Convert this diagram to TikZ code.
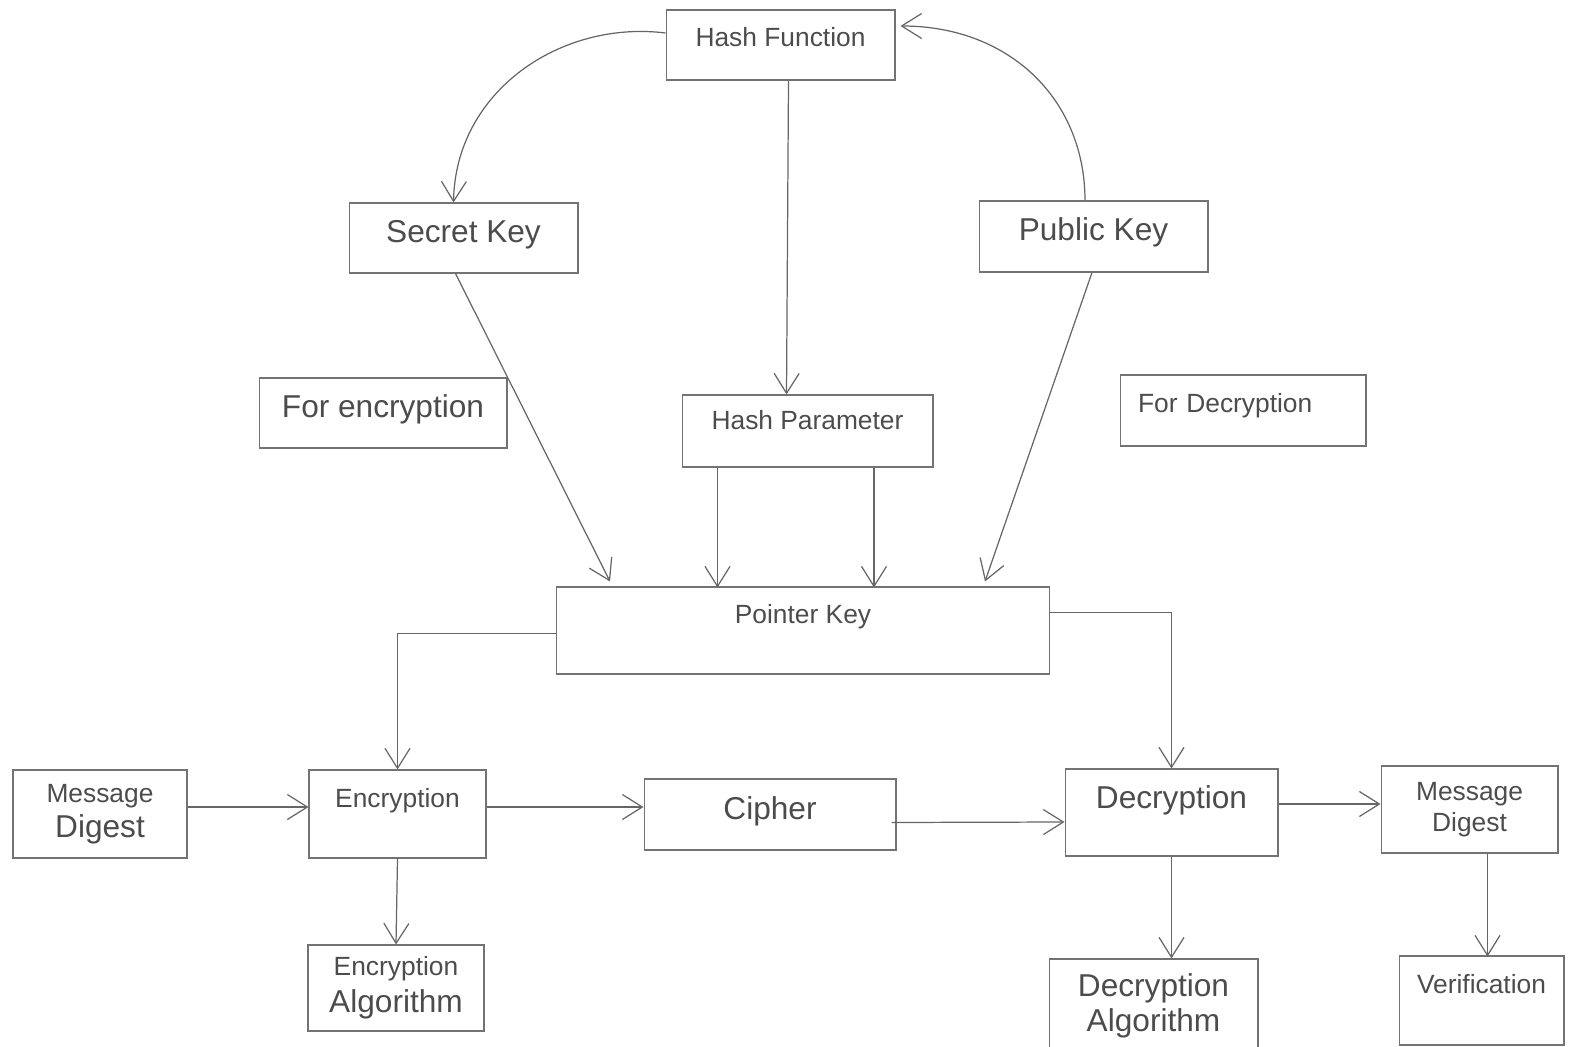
\documentclass[tikz,border=0pt]{standalone}
\usepackage{fontspec}
\setmainfont{Liberation Sans}
\usepackage{tikz}
\usetikzlibrary{arrows.meta,calc}

\newcommand{\mtxt}{\fontsize{15}{18}\selectfont}
\newcommand{\btxt}{\fontsize{18}{21}\selectfont}

\begin{document}
\begin{tikzpicture}[x=0.02cm,y=-0.02cm,
  box/.style={rectangle,draw=black!55,line width=0.6pt,text=black!70,inner sep=2pt},
  dims/.style 2 args={minimum width=#1cm,minimum height=#2cm},
  raised/.style={text height=0.4cm,text depth=#1},
  arr/.style={draw=black!60,line width=0.7pt,
    -{Straight Barb[length=4mm,width=5mm,line width=0.7pt]}}]

  \useasboundingbox (0,0) rectangle (1595,1047);

  \node[box,dims={4.58}{1.4},raised=0.32cm,font=\mtxt] (hf) at (780.5,45) {Hash Function};
  \node[box,dims={4.58}{1.4},raised=0.2cm,font=\btxt] (sk) at (463.5,238) {Secret Key};
  \node[box,dims={4.58}{1.42},raised=0.22cm,font=\btxt] (pk) at (1093.5,236.5) {Public Key};
  \node[box,dims={4.96}{1.4},raised=0.2cm,font=\btxt] (fe) at (383,413) {For encryption};
  \node[box,dims={5.02}{1.44},raised=0.48cm,font=\mtxt] (hp) at (807.5,431) {Hash Parameter};
  \node[box,dims={4.92}{1.42},raised=0.34cm,font=\mtxt,text width=4.2cm,align=left] (fd) at (1243,410.5) {For Decryption};
  \node[box,dims={9.88}{1.74},raised=0.7cm,font=\mtxt] (ptr) at (803,630.5) {Pointer Key};

  \node[box,dims={3.48}{1.76},align=center] (md1) at (100,814) {\mtxt Message\\[3pt]\btxt Digest};
  \node[box,dims={3.54}{1.76},raised=0.68cm,font=\mtxt] (enc) at (397.5,814) {Encryption};
  \node[box,dims={5.04}{1.42},raised=0.22cm,font=\btxt] (ciph) at (770,814.5) {Cipher};
  \node[box,dims={4.26}{1.74},raised=0.58cm,font=\btxt] (dec) at (1171.5,812.5) {Decryption};
  \node[box,dims={3.54}{1.74},align=center] (md2) at (1469.5,809.5) {\mtxt Message\\[2.5pt]\mtxt Digest};

  \node[box,dims={3.52}{1.72},align=center] (ea) at (396,988) {\mtxt Encryption\\[4pt]\btxt Algorithm};
  \node[box,dims={4.18}{1.86},align=center] (da) at (1153.5,1005.5) {\btxt Decryption\\[2pt]\btxt Algorithm};
  \node[box,dims={3.3}{1.78},raised=0.7cm,font=\mtxt] (ver) at (1481.5,1000.5) {Verification};

  % keys and hash
  \draw[arr] ($(hf.west)+(0,-12)$) .. controls +(-104,-13) and +(2,-112) .. ($(sk.north)+(-10,0)$);
  \draw[arr] ($(pk.north)+(-8.5,0)$) .. controls +(0,-100) and +(110,0) .. ($(hf.east)+(5,-19)$);
  \draw[arr] ($(hf.south)+(8,0)$) -- ($(hp.north)+(-21,0)$);

  \draw[arr] ($(sk.south)+(-8,0)$) -- ($(ptr.north)+(-193,-5)$);
  \draw[arr] ($(hp.south)+(-90,0)$) -- ++(0,120);
  \draw[arr] ($(hp.south)+(66.5,0)$) -- ++(0,120);
  \draw[arr] ($(pk.south)+(-1.5,0)$) -- ($(ptr.north)+(182,-5)$);

  \draw[arr] ($(ptr.west)+(0,3)$) -| (enc.north);
  \draw[arr] ($(ptr.east)+(0,-18)$) -| (dec.north);

  % main row
  \draw[arr] ($(md1.east)+(0,-7)$) -- ($(enc.west)+(0,-7)$);
  \draw[arr] ($(enc.east)+(0,-7)$) -- ($(ciph.west)+(0,-7.5)$);
  \draw[arr] ($(ciph.east)+(-5,8)$) -- ($(dec.west)+(0,9.5)$);
  \draw[arr] ($(dec.east)+(0,-8.5)$) -- ($(md2.west)+(0,-5.5)$);

  \draw[arr] (enc.south) -- (ea.north);
  \draw[arr] (dec.south) -- (dec.south |- da.north);
  \draw[arr] ($(md2.south)+(18,0)$) -- ++(0,103);

\end{tikzpicture}
\end{document}
